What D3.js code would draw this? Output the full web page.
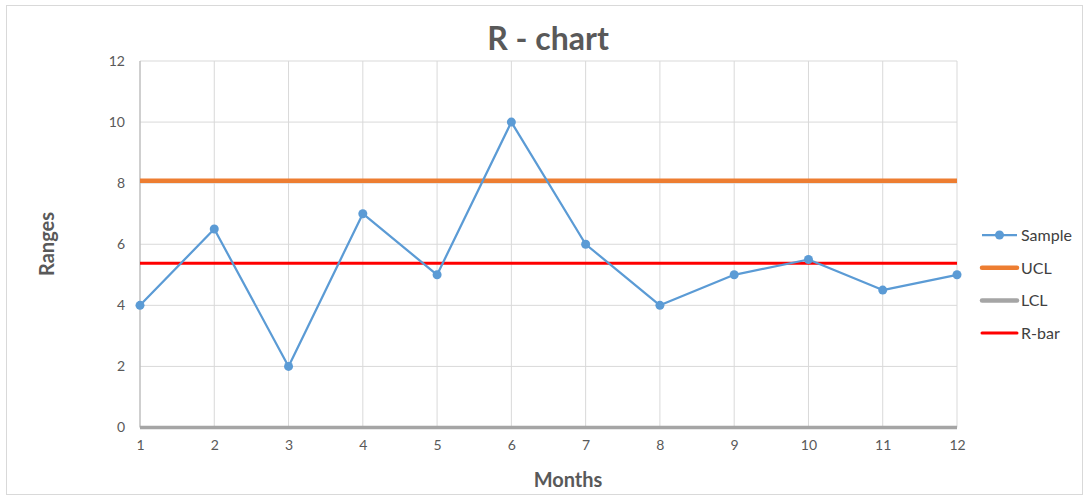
<!DOCTYPE html>
<html>
<head>
<meta charset="utf-8">
<script src="https://cdn.jsdelivr.net/npm/d3@7"></script>
<style>
  html, body { margin: 0; padding: 0; background: #fff; }
  svg { display: block; font-family: Lato, "Open Sans", sans-serif; }
</style>
</head>
<body>
<svg id="chart" width="1085" height="497"></svg>
<script>
// Monthly sample ranges and control limits
const months = [1, 2, 3, 4, 5, 6, 7, 8, 9, 10, 11, 12];
const sampleRanges = [4, 6.5, 2, 7, 5, 10, 6, 4, 5, 5.5, 4.5, 5];
const ucl = 8.08;
const lcl = 0;
const rBar = 5.375;
const yTicks = [0, 2, 4, 6, 8, 10, 12];
const legendLabels = ["Sample", "UCL", "LCL", "R-bar"];

const colors = { sample: "#5b9bd5", ucl: "#ed7d31", lcl: "#a5a5a5", rbar: "#ff0000" };

const svg = d3.select("#chart");
const W = 1085, H = 497;
const plot = { left: 140, right: 957, top: 61, bottom: 427.5 };

// chart frame
svg.append("rect")
  .attr("x", 6.5).attr("y", 5.5)
  .attr("width", W - 9).attr("height", H - 8)
  .attr("fill", "#fff").attr("stroke", "#d9d9d9").attr("stroke-width", 1);

const x = d3.scaleLinear().domain([1, 12]).range([plot.left, plot.right]);
const y = d3.scaleLinear().domain([0, 12]).range([plot.bottom, plot.top]);

// gridlines
const grid = svg.append("g");
grid.selectAll("line.h").data(yTicks).join("line")
  .attr("x1", plot.left).attr("x2", plot.right)
  .attr("y1", d => y(d)).attr("y2", d => y(d))
  .attr("stroke", "#d9d9d9").attr("stroke-width", 1);
grid.selectAll("line.v").data(months).join("line")
  .attr("x1", d => x(d)).attr("x2", d => x(d))
  .attr("y1", plot.top).attr("y2", plot.bottom)
  .attr("stroke", d => d === 1 ? "#bfbfbf" : "#d9d9d9")
  .attr("stroke-width", d => d === 1 ? 1.5 : 1);

// axes (labels only)
const yAxis = svg.append("g")
  .attr("transform", `translate(${plot.left},0)`)
  .call(d3.axisLeft(y).tickValues(yTicks).tickSize(0).tickPadding(15));
const xAxis = svg.append("g")
  .attr("transform", `translate(0,${plot.bottom})`)
  .call(d3.axisBottom(x).tickValues(months).tickFormat(d3.format("d")).tickSize(0).tickPadding(13));
[yAxis, xAxis].forEach(a => {
  a.select(".domain").remove();
  a.selectAll("text")
    .attr("fill", "#595959")
    .style("font-size", "14px")
    .style("font-family", "Lato, 'Open Sans', sans-serif");
});

// control limit lines
const hLine = (val, color, width) => svg.append("line")
  .attr("x1", plot.left).attr("x2", plot.right)
  .attr("y1", y(val)).attr("y2", y(val))
  .attr("stroke", color).attr("stroke-width", width);
hLine(lcl, colors.lcl, 3.5);
hLine(ucl, colors.ucl, 4.5);
hLine(rBar, colors.rbar, 3);

// sample series
const pts = months.map((m, i) => [m, sampleRanges[i]]);
svg.append("path")
  .datum(pts)
  .attr("fill", "none")
  .attr("stroke", colors.sample)
  .attr("stroke-width", 2.25)
  .attr("stroke-linejoin", "round")
  .attr("d", d3.line().x(d => x(d[0])).y(d => y(d[1])));
svg.selectAll("circle.pt").data(pts).join("circle")
  .attr("cx", d => x(d[0])).attr("cy", d => y(d[1]))
  .attr("r", 4.5).attr("fill", colors.sample);

// title
svg.append("text")
  .attr("x", 548).attr("y", 50)
  .attr("text-anchor", "middle")
  .attr("fill", "#595959")
  .style("font-size", "32px").style("font-weight", "bold")
  .text("R - chart");

// axis titles
svg.append("text")
  .attr("x", 568).attr("y", 487)
  .attr("text-anchor", "middle")
  .attr("fill", "#595959")
  .style("font-size", "20px").style("font-weight", "bold")
  .text("Months");
svg.append("text")
  .attr("transform", "translate(54,244) rotate(-90)")
  .attr("text-anchor", "middle")
  .attr("fill", "#595959")
  .style("font-size", "20px").style("font-weight", "bold")
  .text("Ranges");

// legend
const legendStyle = [
  { color: colors.sample, width: 2.25, marker: true },
  { color: colors.ucl, width: 4.5, marker: false },
  { color: colors.lcl, width: 4.5, marker: false },
  { color: colors.rbar, width: 3, marker: false }
];
const legend = svg.append("g");
legendLabels.forEach((label, i) => {
  const ly = 235 + i * 32.7;
  const s = legendStyle[i];
  legend.append("line")
    .attr("x1", 982).attr("x2", 1017)
    .attr("y1", ly).attr("y2", ly)
    .attr("stroke", s.color).attr("stroke-width", s.width)
    .attr("stroke-linecap", s.marker ? "butt" : "round");
  if (s.marker) {
    legend.append("circle").attr("cx", 999.5).attr("cy", ly).attr("r", 4.5).attr("fill", s.color);
  }
  legend.append("text")
    .attr("x", 1021).attr("y", ly + 6)
    .attr("fill", "#404040")
    .style("font-size", "16px")
    .text(label);
});
</script>
</body>
</html>
